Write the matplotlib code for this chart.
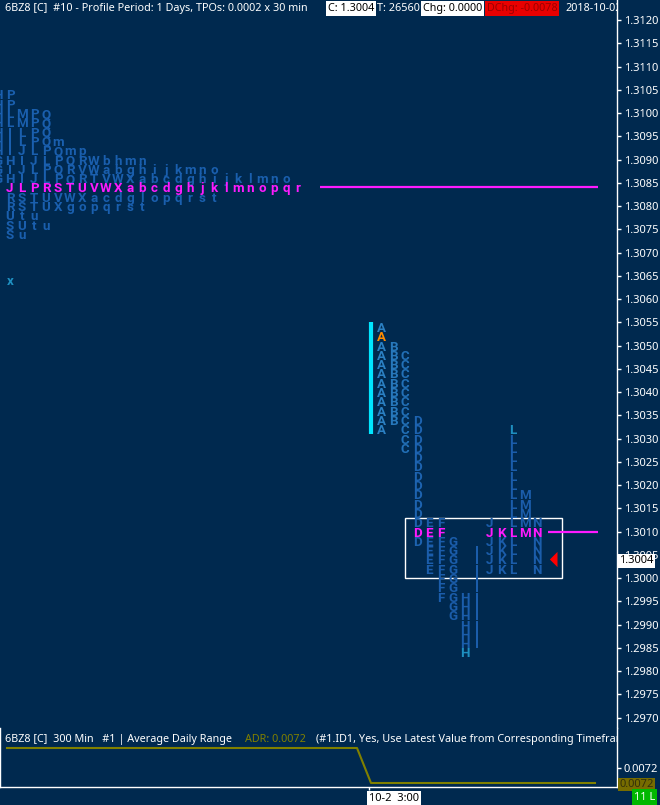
import matplotlib
matplotlib.use("Agg")
import matplotlib.pyplot as plt
import matplotlib.transforms as mtransforms
from matplotlib import font_manager as fm
from matplotlib.patches import Rectangle
from matplotlib.ticker import MultipleLocator, FormatStrFormatter

# ---------------------------------------------------------------- data
TICK = 0.0002

# Previous session profile: TPO letters per price row, left-justified.
# The first slot of each row sits just left of the pane edge.
prior_prices = [1.3104, 1.3102, 1.3100, 1.3098, 1.3096, 1.3094, 1.3092, 1.3090,
                1.3088, 1.3086, 1.3084, 1.3082, 1.3080, 1.3078, 1.3076, 1.3074]
prior_rows = [
    "HP",
    "HP",
    "HLMPQ",
    "HLMPQ",
    "HILPQ",
    "HILPQm",
    "HIJLPQmp",
    "GHIJLPQRWbhmn",
    "GIJLPQRVWabghijkmno",
    "GHIJLPQRTVWXabcdghijklmno",
    " JLPRSTUVWXabcdghjklmnopqr",
    " RSTUVWXacdglopqrst",
    " RSTUXgopqrst",
    " Utu",
    " SUtu",
    " Su",
]
prior_poc = 1.3084
prior_single_price = 1.3064
prior_single_letter = "x"

# Current session: one column per 30-minute period
periods = list("ABCDEFGHIJKLMN")
period_low = [1.3032, 1.3034, 1.3028, 1.3008, 1.3002, 1.2996, 1.2992,
              1.2984, 1.2986, 1.3002, 1.3002, 1.3002, 1.3010, 1.3002]
period_high = [1.3054, 1.3050, 1.3048, 1.3034, 1.3012, 1.3012, 1.3008,
               1.2996, 1.3006, 1.3012, 1.3010, 1.3032, 1.3018, 1.3012]
open_price = 1.3052
poc_price = 1.3010
last_price = 1.3004
ib_low, ib_high = 1.3032, 1.3054
box_low, box_high = 1.3000, 1.3013
accent_marks = [("H", 1.2984), ("L", 1.3032)]

# Average Daily Range study (300 min bars)
adr_levels = [0.007204, 0.007197]
adr_change_bar = 26
adr_last_bar = 42
adr_axis_value = 0.0072
time_label = "10-2  3:00"

header_main = "6BZ8 [C]  #10 - Profile Period: 1 Days, TPOs: 0.0002 x 30 min"
header_close = "C: 1.3004"
header_ticks = "T: 26560"
header_chg = "Chg: 0.0000"
header_dchg = "DChg: -0.0078"
header_date = "2018-10-02"
study_title = "6BZ8 [C]  300 Min   #1 | Average Daily Range"
study_value = "ADR: 0.0072"
study_inputs = "(#1.ID1, Yes, Use Latest Value from Corresponding Timeframe)"

# ---------------------------------------------------------------- style
BG = "#00294f"
PRIOR_BLUE = "#1a5fae"
PERIOD_COLORS = {"A": "#2b80c3", "B": "#2778bc", "C": "#2270b7", "D": "#1d63b0"}
DEFAULT_PERIOD = "#1b5dab"
ACCENT = "#1e8fc0"
MAGENTA = "#ff1aff"
ORANGE = "#ff8c00"
CYAN = "#00e6ff"
OLIVE = "#808000"

names = {f.name for f in fm.fontManager.ttflist}
UI = "Liberation Sans Narrow" if "Liberation Sans Narrow" in names else "Noto Sans"
UI_SIZE = 9.2 if UI == "Liberation Sans Narrow" else 7.8
LETTER_FONT = "Roboto" if "Roboto" in names else "DejaVu Sans"

plt.rcParams["font.family"] = ["Noto Sans", "DejaVu Sans"]

W, H = 660, 805
MAIN_BOT = 728
SUB_TOP, SUB_BOT = 728, 787
PANE_R = 617

fig = plt.figure(figsize=(W / 100, H / 100), dpi=100, facecolor=BG)
ax = fig.add_axes([0, 1 - MAIN_BOT / H, PANE_R / W, MAIN_BOT / H])
ax2 = fig.add_axes([0, 1 - SUB_BOT / H, PANE_R / W, (SUB_BOT - SUB_TOP) / H])
for a in (ax, ax2):
    a.set_facecolor(BG)
    a.set_xlim(0, PANE_R)

# price scale: 1.3120 is 20 px below the top edge, 46.5 px per 0.001
PX_PER_PRICE = 46500


def price_at(ypx):
    return 1.3120 - (ypx - 20) / PX_PER_PRICE


ax.set_ylim(price_at(MAIN_BOT), price_at(0))

COL_W = 12
PRIOR_X0 = 10
CUR_X0 = 381

letter_kw = dict(ha="center", va="center_baseline", family=LETTER_FONT,
                 fontweight="bold")

# previous session profile
for price, row in zip(prior_prices, prior_rows):
    on_poc = abs(price - prior_poc) < 1e-9
    for k, ch in enumerate(row):
        if ch == " ":
            continue
        x = PRIOR_X0 + COL_W * (k - 1)
        ax.text(x, price, ch, color=MAGENTA if on_poc else PRIOR_BLUE,
                fontsize=9.6, clip_on=True, **letter_kw)
ax.text(PRIOR_X0, prior_single_price, prior_single_letter, color=ACCENT,
        fontsize=9.6, **letter_kw)
last_prior = max(len(r) for r in prior_rows) - 1
ax.plot([PRIOR_X0 + COL_W * last_prior + 10, 598], [prior_poc, prior_poc],
        color=MAGENTA, lw=1.6, solid_capstyle="butt")

# current session profile
for i, (per, lo, hi) in enumerate(zip(periods, period_low, period_high)):
    x = CUR_X0 + COL_W * i
    n = int(round((hi - lo) / TICK))
    for j in range(n + 1):
        p = lo + j * TICK
        if abs(p - poc_price) < 1e-9:
            color = MAGENTA
        elif per == "A" and abs(p - open_price) < 1e-9:
            color = ORANGE
        elif any(per == a and abs(p - ap) < 1e-9 for a, ap in accent_marks):
            color = ACCENT
        else:
            color = PERIOD_COLORS.get(per, DEFAULT_PERIOD)
        ax.text(x, p, per, color=color, fontsize=9.6, **letter_kw)

# initial balance bar
ax.plot([CUR_X0 - 10, CUR_X0 - 10], [ib_low - TICK / 2, ib_high + TICK / 2],
        color=CYAN, lw=3, solid_capstyle="butt")

# range box around the recent periods
box_left = CUR_X0 + COL_W * periods.index("D") - 12
box_right = CUR_X0 + COL_W * periods.index("N") + 25
ax.add_patch(Rectangle((box_left, box_low), box_right - box_left, box_high - box_low,
                       fill=False, ec="white", lw=1))

# point of control extension
x_last = CUR_X0 + COL_W * (len(periods) - 1)
ax.plot([x_last + 11, 598], [poc_price, poc_price], color=MAGENTA, lw=1.6,
        solid_capstyle="butt")

# last price marker
ax.plot(x_last + 20, last_price, marker=[(0, -1), (0, 1), (-1, 0)], ms=11,
        color="red", mec="red", mew=0)

# price scale
ax.yaxis.tick_right()
ax.yaxis.set_major_locator(MultipleLocator(0.0005))
ax.yaxis.set_major_formatter(FormatStrFormatter("%.4f"))
ax.tick_params(axis="y", colors="white", length=3, width=1, pad=2, labelsize=8)
ax.tick_params(axis="x", bottom=False, labelbottom=False)
for name, sp in ax.spines.items():
    sp.set_visible(name == "right")
ax.spines["right"].set_color("white")
ax.spines["right"].set_linewidth(1)

ax.text(PANE_R + 2, last_price, "1.3004", color="black", fontsize=8,
        ha="left", va="center_baseline", clip_on=False, zorder=10,
        bbox=dict(boxstyle="square,pad=0.12", fc="white", ec="none"))

# header line
hdr = mtransforms.blended_transform_factory(ax.transData, ax.transAxes)
hy = 1 - 8.5 / MAIN_BOT
hkw = dict(transform=hdr, fontsize=UI_SIZE, family=UI, va="center", ha="left",
           clip_on=True, zorder=12)
ax.text(5, hy, header_main, color="white", **hkw)
ax.text(328, hy, header_close, color="black",
        bbox=dict(boxstyle="square,pad=0.15", fc="white", ec="none"), **hkw)
ax.text(377, hy, header_ticks, color="white", **hkw)
ax.text(423, hy, header_chg, color="black",
        bbox=dict(boxstyle="square,pad=0.15", fc="white", ec="none"), **hkw)
ax.text(487, hy, header_dchg, color="#9a0000",
        bbox=dict(boxstyle="square,pad=0.15", fc="#e80000", ec="none"), **hkw)
ax.text(565, hy, header_date, color="white", **hkw)

# ---------------------------------------------------------------- ADR pane
ADR_PX = 0.0000002
ax2.set_ylim(adr_axis_value - (SUB_BOT - 768) * ADR_PX,
             adr_axis_value + (768 - SUB_TOP) * ADR_PX)


def bar_x(i):
    return 7 + 14 * i


ax2.plot([bar_x(0), bar_x(adr_change_bar - 1), bar_x(adr_change_bar), bar_x(adr_last_bar)],
         [adr_levels[0], adr_levels[0], adr_levels[1], adr_levels[1]],
         color=OLIVE, lw=1.5)

ax2.yaxis.tick_right()
ax2.set_yticks([adr_axis_value])
ax2.yaxis.set_major_formatter(FormatStrFormatter("%.4f"))
ax2.tick_params(axis="y", colors="white", length=3, width=1, pad=2, labelsize=8)
ax2.set_xticks([bar_x(adr_change_bar) - 2])
ax2.set_xticklabels([time_label])
ax2.tick_params(axis="x", colors="white", length=2, width=1, pad=2, labelsize=8)
for lab in ax2.get_xticklabels():
    lab.set_color("black")
    lab.set_ha("left")
    lab.set_bbox(dict(boxstyle="square,pad=0.15", fc="white", ec="none"))
ax2.spines["top"].set_visible(False)
for name in ("left", "right", "bottom"):
    ax2.spines[name].set_color("white")
    ax2.spines[name].set_linewidth(1)

st = mtransforms.blended_transform_factory(ax2.transData, ax2.transAxes)
sy = 1 - (739 - SUB_TOP) / (SUB_BOT - SUB_TOP)
skw = dict(transform=st, fontsize=UI_SIZE, family=UI, va="center", ha="left",
           clip_on=True)
ax2.text(5, sy, study_title, color="white", **skw)
ax2.text(245, sy, study_value, color=OLIVE, **skw)
ax2.text(316, sy, study_inputs, color="white", **skw)

ax2.text(PANE_R + 2, adr_levels[1], "0.0072", color="#34300a", fontsize=8,
         ha="left", va="center_baseline", clip_on=False, zorder=10,
         bbox=dict(boxstyle="square,pad=0.12", fc="#766c00", ec="none"))

fig.text(634 / W, 1 - 797 / H, "11 L", color="white", fontsize=8, family=UI,
         ha="left", va="center",
         bbox=dict(boxstyle="square,pad=0.2", fc="#00b800", ec="none"))

fig.savefig("out.png", dpi=100, facecolor=BG)
